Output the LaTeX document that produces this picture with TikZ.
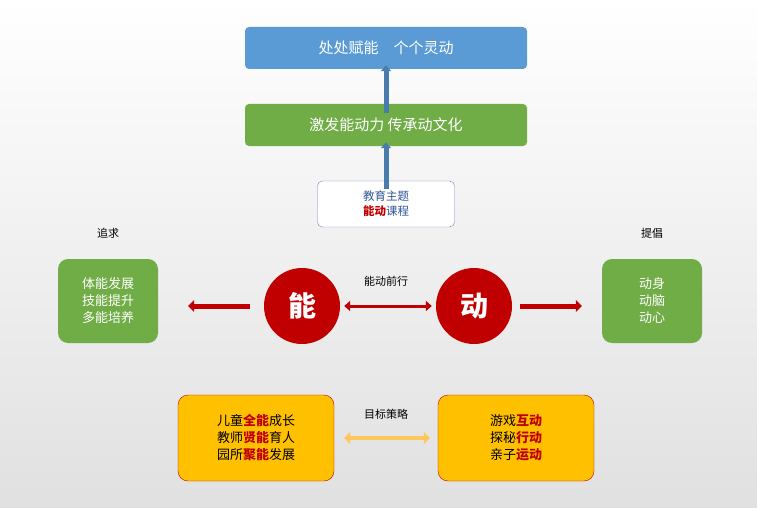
\documentclass[tikz,border=0pt]{standalone}
\usepackage{fontspec}
\setmainfont{Noto Sans CJK SC}
\usetikzlibrary{arrows.meta, positioning}
\definecolor{topblue}{HTML}{5B9BD5}
\definecolor{leafgreen}{HTML}{70AD47}
\definecolor{deepred}{HTML}{C00000}
\definecolor{gold}{HTML}{FFC000}
\definecolor{lightgold}{HTML}{FFC65A}
\definecolor{textblue}{HTML}{2F5597}
\newcommand{\hot}[1]{\textcolor{deepred}{\textbf{#1}}}
\begin{document}
\begin{tikzpicture}[x=1pt,y=-1pt,
        banner/.style={draw=none, rounded corners=4pt, minimum width=282pt, minimum height=42pt, text=white, font=\fontsize{15}{18}\selectfont},
        goalbox/.style={fill=leafgreen, rounded corners=10pt, minimum width=100pt, minimum height=84pt, text=white, align=center, font=\fontsize{13}{17}\selectfont},
        wheel/.style={circle, fill=deepred, minimum size=76pt, text=white, font=\fontsize{28}{30}\selectfont\bfseries},
        planbox/.style={draw=deepred, fill=gold, rounded corners=10pt, minimum width=156pt, minimum height=86pt, align=center, font=\fontsize{13}{17}\selectfont},
        uparrow/.style={-{Triangle[length=6pt,width=10pt]}, line width=5pt, topblue!80!black},
        push/.style={-{Triangle[length=6pt,width=12pt]}, line width=5pt, deepred},
        label/.style={font=\fontsize{11}{13}\selectfont}
      ]
      % background
      \shade[top color=white, bottom color=black!12] (0,0) rectangle (757,508);
      \useasboundingbox (0,0) rectangle (757,508);

      % top column
      \node[banner, fill=topblue] (vision) at (386,48) {处处赋能\quad 个个灵动};
      \node[banner, fill=leafgreen] (mission) at (386,125) {激发能动力 传承动文化};
      \node[draw=textblue!70, fill=white, rounded corners=5pt, minimum width=137pt, minimum height=46pt, align=center, text=textblue, font=\fontsize{11.5}{15}\selectfont] (theme) at (386,204) {教育主题\\\hot{能动}课程};
      \draw[uparrow] ([yshift=-9pt]mission.north) -- ([yshift=4pt]vision.south);
      \draw[uparrow] ([yshift=-8pt]theme.north) -- ([yshift=4pt]mission.south);

      % middle row
      \node[wheel] (neng) at (302,306) {能};
      \node[wheel] (dong) at (474,306) {动};
      \node[goalbox] (pursue) at (108,301) {体能发展\\技能提升\\多能培养};
      \node[goalbox] (advocate) at (652,301) {动身\\动脑\\动心};
      \node[label] at (108,233) {追求};
      \node[label] at (652,233) {提倡};
      \node[label] (forward) at (386,281) {能动前行};
      \draw[push] ([xshift=-14pt]neng.west) -- ([xshift=30pt]pursue.east |- neng);
      \draw[push] ([xshift=8pt]dong.east) -- ([xshift=-20pt]advocate.west |- dong);
      \draw[{Triangle[length=6pt,width=10pt]}-{Triangle[length=6pt,width=10pt]}, line width=3pt, deepred] ([xshift=4pt]neng.east) -- ([xshift=-4pt]dong.west);

      % bottom row
      \node[planbox] (aims) at (256,438) {儿童\hot{全能}成长\\教师\hot{贤能}育人\\园所\hot{聚能}发展};
      \node[planbox] (ways) at (516,438) {游戏\hot{互动}\\探秘\hot{行动}\\亲子\hot{运动}};
      \node[label] at (386,414) {目标策略};
      \draw[{Triangle[length=6pt,width=12pt]}-{Triangle[length=6pt,width=12pt]}, line width=4pt, lightgold] ([xshift=10pt]aims.east) -- ([xshift=-8pt]ways.west);
\end{tikzpicture}
\end{document}
